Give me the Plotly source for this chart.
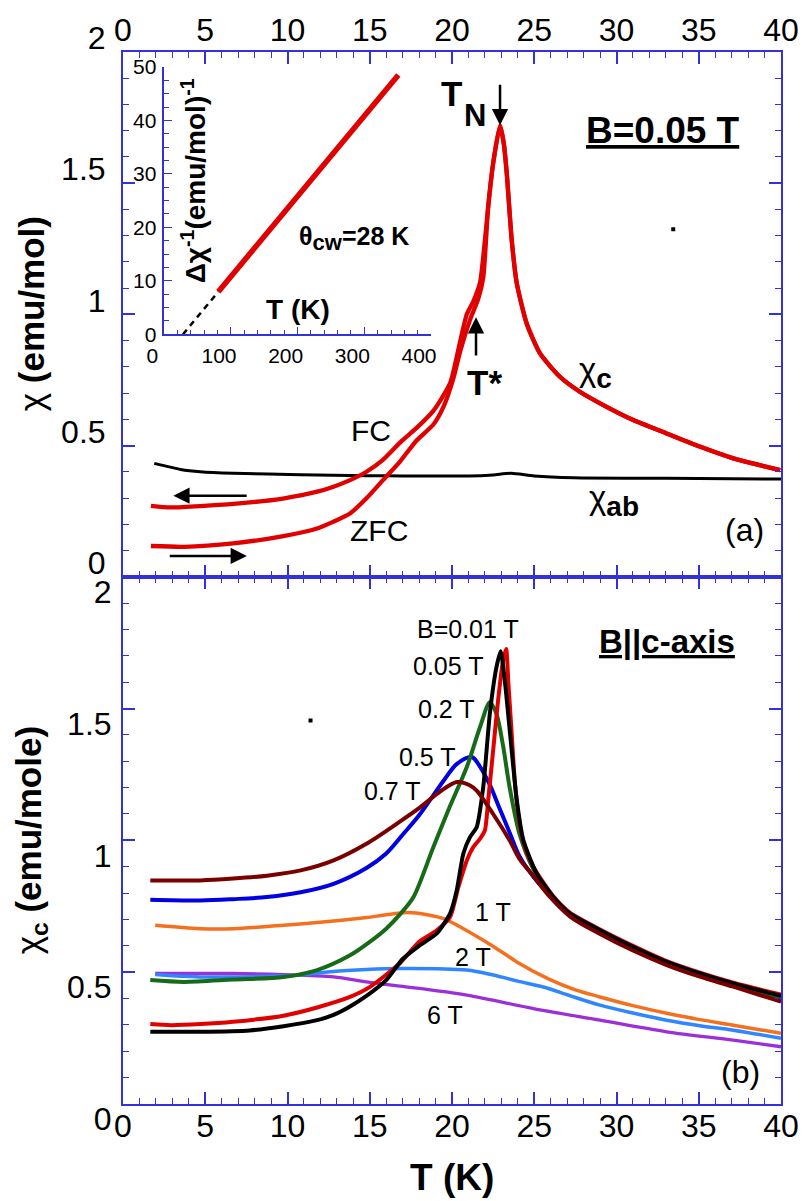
import plotly.graph_objects as go

# ---------------- data: panel (a), B = 0.05 T ----------------
T_fc = [1.7, 2.9, 4.7, 7.7, 9.8, 11.8, 12.8, 13.8, 14.8, 15.8, 16.9, 17.9, 18.9, 19.9, 20.4, 20.9, 21.3, 21.7, 21.9, 22.2, 22.5, 22.92]
chi_fc = [0.270, 0.264, 0.269, 0.283, 0.299, 0.324, 0.343, 0.368, 0.40, 0.445, 0.515, 0.57, 0.635, 0.74, 0.87, 1.0, 1.05, 1.12, 1.22, 1.41, 1.575, 1.72]
T_zfc = [1.7, 3.7, 6.7, 9.75, 11.8, 12.8, 13.8, 14.8, 15.8, 16.85, 17.86, 18.87, 19.5, 20.1, 20.5, 21.1, 21.6, 21.9, 22.2, 22.5, 22.92]
chi_zfc = [0.117, 0.114, 0.127, 0.155, 0.184, 0.21, 0.241, 0.299, 0.368, 0.44, 0.52, 0.58, 0.65, 0.76, 0.86, 0.98, 1.06, 1.14, 1.41, 1.575, 1.72]
T_para = [22.92, 23.15, 23.33, 23.63, 23.94, 24.54, 25.35, 26.56, 27.77, 29.0, 31.02, 33.05, 35.1, 37.1, 39.95]
chi_para = [1.72, 1.65, 1.537, 1.283, 1.118, 0.965, 0.851, 0.762, 0.705, 0.661, 0.597, 0.546, 0.495, 0.451, 0.406]
T_ab = [1.9, 3.5, 4.7, 6.7, 10.8, 14.8, 17.0, 21.0, 22.5, 23.6, 25.0, 27.4, 33.0, 40.0]
chi_ab = [0.432, 0.409, 0.400, 0.394, 0.389, 0.385, 0.384, 0.384, 0.388, 0.394, 0.384, 0.377, 0.375, 0.372]

# inset: inverse susceptibility (straight red segment) and Curie-Weiss extrapolation
T_inv = [81, 150, 220, 290, 351]
inv_chi = [7.96, 18.3, 28.8, 39.3, 48.5]
T_cw = [28, 81]
inv_cw = [0.0, 7.96]

# ---------------- data: panel (b), B || c ----------------
T_001 = [1.66, 2.9, 4.7, 6.7, 9.76, 11.8, 13.8, 15.04, 16.85, 18.0, 19.08, 19.88, 20.39, 20.9, 21.3, 21.7, 22.0, 22.2, 22.5, 22.8, 23.1, 23.29, 23.43, 23.63, 23.83, 24.14, 24.5, 25.15, 26.16, 27.18, 29.0, 31.0, 33.05, 35.07, 37.1, 40.0]
chi_001 = [0.303, 0.299, 0.303, 0.312, 0.335, 0.366, 0.406, 0.445, 0.535, 0.615, 0.659, 0.709, 0.823, 0.924, 0.975, 1.006, 1.038, 1.152, 1.341, 1.53, 1.682, 1.726, 1.594, 1.404, 1.215, 1.05, 0.96, 0.878, 0.788, 0.725, 0.662, 0.6, 0.542, 0.498, 0.46, 0.415]
T_005 = [1.66, 4.7, 7.7, 9.76, 11.8, 12.8, 13.8, 14.8, 16.0, 17.0, 18.0, 19.08, 19.88, 20.29, 20.69, 21.1, 21.5, 21.9, 22.3, 22.7, 22.96, 23.23, 23.53, 23.94, 24.34, 25.15, 26.16, 27.18, 29.0, 31.0, 33.05, 35.07, 37.1, 40.0]
chi_005 = [0.274, 0.274, 0.279, 0.295, 0.318, 0.338, 0.37, 0.41, 0.47, 0.55, 0.6, 0.647, 0.722, 0.811, 0.95, 1.013, 1.05, 1.202, 1.48, 1.656, 1.717, 1.594, 1.404, 1.152, 1.0, 0.874, 0.785, 0.722, 0.659, 0.596, 0.539, 0.495, 0.457, 0.41]
T_02 = [1.66, 3.7, 6.7, 9.76, 11.8, 13.8, 15.0, 16.0, 16.85, 17.66, 18.87, 19.88, 20.9, 21.7, 22.3, 22.7, 23.1, 23.5, 24.1, 24.95, 25.96, 27.2, 29.0, 31.0, 33.05, 35.07, 37.1, 40.0]
chi_02 = [0.470, 0.463, 0.472, 0.482, 0.508, 0.564, 0.615, 0.665, 0.72, 0.785, 0.975, 1.13, 1.278, 1.429, 1.524, 1.48, 1.36, 1.202, 1.025, 0.89, 0.795, 0.716, 0.652, 0.59, 0.534, 0.49, 0.451, 0.40]
T_05 = [1.66, 4.7, 6.7, 8.75, 10.8, 12.8, 14.8, 16.0, 17.05, 18.06, 19.5, 20.3, 21.2, 21.7, 22.3, 22.9, 23.5, 24.1, 24.95, 25.96, 27.2, 29.0, 31.0, 33.05, 35.07, 37.1, 40.0]
chi_05 = [0.775, 0.772, 0.777, 0.785, 0.803, 0.835, 0.895, 0.95, 1.025, 1.10, 1.227, 1.29, 1.316, 1.28, 1.21, 1.12, 1.03, 0.94, 0.862, 0.79, 0.713, 0.648, 0.585, 0.53, 0.486, 0.448, 0.393]
T_07 = [1.66, 4.7, 6.7, 8.75, 10.8, 12.8, 14.8, 16.85, 18.06, 19.28, 20.3, 21.1, 21.5, 22.5, 23.5, 24.1, 24.95, 25.96, 27.2, 29.0, 31.0, 33.05, 35.07, 37.1, 40.0]
chi_07 = [0.848, 0.848, 0.855, 0.866, 0.886, 0.924, 0.987, 1.072, 1.125, 1.185, 1.221, 1.208, 1.189, 1.10, 1.0, 0.93, 0.865, 0.785, 0.71, 0.645, 0.582, 0.527, 0.483, 0.445, 0.388]
T_1 = [1.96, 4.7, 6.7, 9.76, 12.8, 14.8, 16.0, 17.3, 18.5, 19.48, 20.7, 21.9, 23.1, 23.94, 25.96, 27.5, 29.0, 31.0, 33.05, 35.07, 37.1, 40.0]
chi_1 = [0.678, 0.665, 0.665, 0.678, 0.694, 0.707, 0.718, 0.726, 0.718, 0.703, 0.665, 0.621, 0.574, 0.539, 0.472, 0.433, 0.406, 0.373, 0.344, 0.32, 0.299, 0.268]
T_2 = [1.96, 4.7, 10.8, 11.8, 14.8, 16.85, 20.9, 22.5, 24.0, 25.55, 27.2, 29.0, 31.0, 33.05, 35.07, 37.1, 40.0]
chi_2 = [0.491, 0.482, 0.489, 0.497, 0.510, 0.514, 0.508, 0.489, 0.466, 0.444, 0.41, 0.375, 0.345, 0.318, 0.297, 0.280, 0.249]
T_6 = [1.96, 6.7, 9.76, 12.8, 14.8, 16.85, 20.9, 24.95, 29.0, 33.05, 37.1, 40.0]
chi_6 = [0.495, 0.495, 0.491, 0.482, 0.463, 0.447, 0.413, 0.362, 0.318, 0.274, 0.242, 0.217]

# stray dots present in the original figure
dot_a = ([33.45], [1.324])
dot_b = ([11.4], [1.455])

x_ticks = [0, 5, 10, 15, 20, 25, 30, 35, 40]
y_ticks = [0, 0.5, 1, 1.5, 2]
y_ticklabels = ["0", "0.5", "1", "1.5", "2"]

# ---------------- styling ----------------
FONT = "Arial, 'Liberation Sans', sans-serif"
AX = "#3232d6"
RED = "#e00000"

fig = go.Figure()


def line(x, y, color, width, xa="x", ya="y", dash=None, smooth=0.6):
    fig.add_trace(go.Scatter(
        x=x, y=y, mode="lines", xaxis=xa, yaxis=ya, showlegend=False, hoverinfo="skip",
        line=dict(color=color, width=width, dash=dash, shape="spline" if smooth else "linear",
                  smoothing=smooth if smooth else None)))


# panel (a)
line(T_ab, chi_ab, "black", 3)
line(T_zfc + T_para[1:], chi_zfc + chi_para[1:], RED, 4.3)
line(T_fc + T_para[1:], chi_fc + chi_para[1:], RED, 4.3)
fig.add_trace(go.Scatter(x=dot_a[0], y=dot_a[1], mode="markers", xaxis="x", yaxis="y",
                         marker=dict(symbol="square", size=4, color="black"), showlegend=False, hoverinfo="skip"))

# inset
line(T_cw, inv_cw, "black", 2.5, "x3", "y3", dash="6px,5px", smooth=0)
line(T_inv, inv_chi, RED, 5.5, "x3", "y3", smooth=0)

# panel (b)
line(T_6, chi_6, "#9b30d8", 3.3, "x2", "y2", smooth=0.9)
line(T_2, chi_2, "#2f86ff", 3.5, "x2", "y2", smooth=0.9)
line(T_1, chi_1, "#f5701e", 3.5, "x2", "y2", smooth=0.9)
line(T_05, chi_05, "#0000e0", 4, "x2", "y2", smooth=0.9)
line(T_02, chi_02, "#176a17", 4, "x2", "y2", smooth=0.8)
line(T_001, chi_001, RED, 4, "x2", "y2")
line(T_005, chi_005, "black", 4, "x2", "y2")
line(T_07, chi_07, "#7a0000", 4, "x2", "y2", smooth=0.9)
fig.add_trace(go.Scatter(x=dot_b[0], y=dot_b[1], mode="markers", xaxis="x2", yaxis="y2",
                         marker=dict(symbol="square", size=4, color="black"), showlegend=False, hoverinfo="skip"))

# ---------------- layout ----------------
L, R, TOP, B = 123, 22, 52, 97
W, H = 803, 1201
ph = H - TOP - B
split = (H - B - 576.7) / ph

common = dict(showgrid=False, zeroline=False, showline=True, linecolor=AX, linewidth=2,
              ticks="inside", tickcolor=AX, tickwidth=1.5, mirror="ticks", automargin=False,
              tickfont=dict(size=32, color="black", family=FONT))
xcommon = dict(common, range=[0, 40], tickvals=x_ticks, ticklen=12,
               minor=dict(dtick=1, ticklen=6, tickcolor=AX, tickwidth=1.2, ticks="inside"))
ycommon = dict(common, range=[0, 2], tickvals=y_ticks, ticktext=y_ticklabels, ticklen=12,
               minor=dict(dtick=0.1, ticklen=6, tickcolor=AX, tickwidth=1.2, ticks="inside"))

inset_x0 = (164.3 - L) / (W - L - R)
inset_x1 = (431 - L) / (W - L - R)
inset_y0 = (H - B - 334.3) / ph
inset_y1 = (H - B - 66.9) / ph

inset_common = dict(showgrid=False, zeroline=False, showline=True, linecolor=AX, linewidth=1.5,
                    ticks="inside", ticklen=8, tickcolor=AX, tickwidth=1.2, automargin=False,
                    tickfont=dict(size=21, color="black", family=FONT))

fig.update_layout(
    width=W, height=H, margin=dict(l=L, r=R, t=TOP, b=B, autoexpand=False),
    paper_bgcolor="white", plot_bgcolor="rgba(0,0,0,0)",
    font=dict(family=FONT, color="black"),
    xaxis=dict(xcommon, domain=[0, 1], anchor="y", side="top", ticklabelstandoff=-4),
    yaxis=dict(ycommon, domain=[split, 1], anchor="x", ticklabelshift=-14, ticklabelstandoff=9),
    xaxis2=dict(xcommon, domain=[0, 1], anchor="y2", side="bottom", ticklabelstandoff=-7),
    yaxis2=dict(ycommon, domain=[0, split], anchor="x2", ticklabelshift=15, ticklabelstandoff=3),
    xaxis3=dict(inset_common, domain=[inset_x0, inset_x1], anchor="y3", range=[0, 400],
                tickvals=[0, 100, 200, 300, 400],
                minor=dict(dtick=20, ticklen=5, tickcolor=AX, tickwidth=1, ticks="inside"),
                ticklabelshift=-12, ticklabelstandoff=2),
    yaxis3=dict(inset_common, domain=[inset_y0, inset_y1], anchor="x3", range=[0, 50],
                tickvals=[0, 10, 20, 30, 40, 50],
                minor=dict(dtick=2.5, ticklen=5, tickcolor=AX, tickwidth=1, ticks="inside"),
                ticklabelstandoff=2),
)


def text(t, x, y, size, xref="x", yref="y", angle=0, xanchor="center", **kw):
    fig.add_annotation(text=t, x=x, y=y, xref=xref, yref=yref, showarrow=False, textangle=angle,
                       font=dict(size=size, color="black", family=FONT), xanchor=xanchor, yanchor="middle", **kw)


def arrow(x0, y0, x1, y1, xref="x", yref="y"):
    fig.add_annotation(x=x1, y=y1, ax=x0, ay=y0, xref=xref, yref=yref, axref=xref, ayref=yref,
                       text="", showarrow=True, arrowhead=2, arrowsize=1.3, arrowwidth=2.5,
                       arrowcolor="black", standoff=0, startstandoff=0)


# axis titles
text("χ <b>(emu/mol)</b>", 0, (split + 1) / 2, 35, "paper", "paper", angle=-90, xshift=-92)
text("χ<sub><b>c</b></sub> <b>(emu/mole)</b>", 0, split / 2, 35, "paper", "paper", angle=-90, xshift=-92)
text("<b>T (K)</b>", 0.5, 0, 37, "paper", "paper", yshift=-73)

# panel (a) annotations: T_N written as T with a lowered N, as in the original
text("<b>T</b>", 19.99, 1.843, 35)
text("<b>N</b>", 21.4, 1.759, 31)
arrow(22.92, 1.881, 22.92, 1.721)
text("<b><u>B=0.05 T</u></b>", 32.83, 1.70, 37)
text("<b>T*</b>", 21.95, 0.74, 35)
arrow(21.46, 0.837, 21.46, 0.989)
text("χ<sub><b><span style='font-size:28px'>c</span></b></sub>", 28.75, 0.78, 33)
text("χ<sub><b><span style='font-size:28px'>ab</span></b></sub>", 29.85, 0.29, 33)
text("(a)", 37.8, 0.178, 32)
text("FC", 15.1, 0.557, 30)
text("ZFC", 15.56, 0.178, 30)
arrow(7.61, 0.309, 3.06, 0.309)
arrow(2.75, 0.079, 7.53, 0.079)

# inset annotations
text("<b>Δχ<sup>-1</sup>(emu/mol)<sup>-1</sup></b>", 44.5, 28.8, 28, "x3", "y3", angle=-90)
text("<b>T (K)</b>", 201, 4.7, 28, "x3", "y3")
text("<b>θ<sub><span style='font-size:22px'>cw</span></sub>=28 K</b>", 284.6, 18.0, 25, "x3", "y3")

# panel (b) annotations
text("B=0.01 T", 21.0, 1.803, 25, "x2", "y2")
text("0.05 T", 19.78, 1.663, 25, "x2", "y2")
text("0.2 T", 19.68, 1.5, 25, "x2", "y2")
text("0.5 T", 18.52, 1.318, 25, "x2", "y2")
text("0.7 T", 16.39, 1.186, 25, "x2", "y2")
text("1 T", 22.5, 0.727, 25, "x2", "y2")
text("2 T", 21.3, 0.558, 25, "x2", "y2")
text("6 T", 19.58, 0.337, 25, "x2", "y2")
text("<b><u>B||c-axis</u></b>", 33.05, 1.754, 33, "x2", "y2")
text("(b)", 37.56, 0.121, 32, "x2", "y2")

# remove the default page margin so the figure sits at the window's top-left corner
fig.write_html("out.html", config={"displayModeBar": False},
               post_script="document.body.style.margin='0';")
